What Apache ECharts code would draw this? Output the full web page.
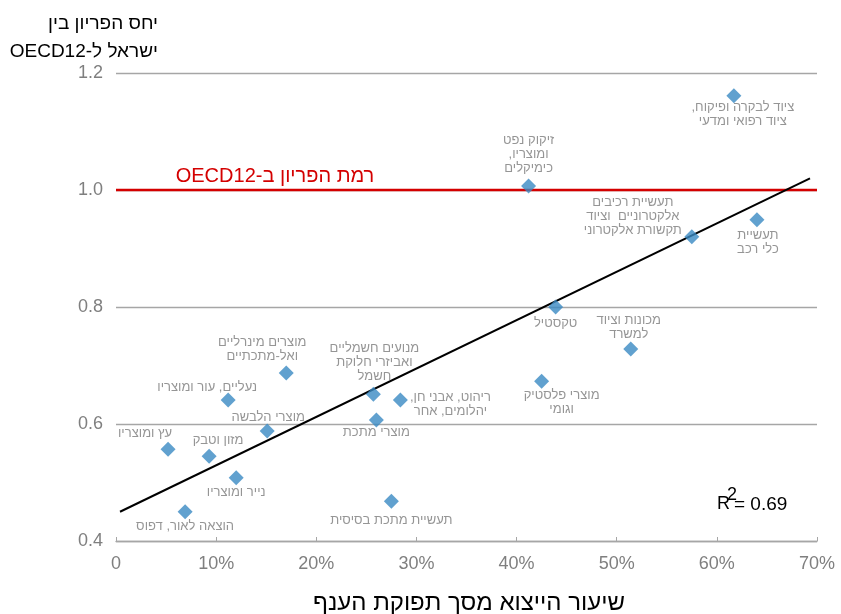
<!DOCTYPE html>
<html>
<head>
<meta charset="utf-8">
<script src="https://cdn.jsdelivr.net/npm/echarts@6/dist/echarts.min.js"></script>
<style>html,body{margin:0;padding:0;background:#fff}#c{width:841px;height:614px}</style>
</head>
<body>
<div id="c"></div>
<script>
// Industries (Hebrew labels, lines split by \n)
const industries = [
  'ציוד לבקרה ופיקוח,\nציוד רפואי ומדעי',
  'זיקוק נפט\nומוצריו,\nכימיקלים',
  'תעשיית\nכלי רכב',
  'תעשיית רכיבים\nאלקטרוניים  וציוד\nתקשורת אלקטרוני',
  'טקסטיל',
  'מכונות וציוד\nלמשרד',
  'מוצרי פלסטיק\nוגומי',
  'מוצרים מינרליים\nואל-מתכתיים',
  'מנועים חשמליים\nואביזרי חלוקת\nחשמל',
  'ריהוט, אבני חן,\nיהלומים, אחר',
  'נעליים, עור ומוצריו',
  'מוצרי מתכת',
  'מוצרי הלבשה',
  'עץ ומוצריו',
  'מזון וטבק',
  'נייר ומוצריו',
  'הוצאה לאור, דפוס',
  'תעשיית מתכת בסיסית'
];
// Export share of output (%)
const exportShare = [61.7, 41.2, 64.0, 57.5, 43.9, 51.4, 42.5, 17.0, 25.7, 28.4, 11.2, 26.0, 15.1, 5.2, 9.3, 12.0, 6.9, 27.5];
// Productivity ratio Israel / OECD12
const productivity = [1.161, 1.007, 0.949, 0.920, 0.800, 0.728, 0.673, 0.687, 0.651, 0.641, 0.641, 0.607, 0.588, 0.557, 0.545, 0.508, 0.450, 0.468];
// Trend line endpoints
const trendX = [0.4, 69.3];
const trendY = [0.450, 1.020];
const oecdLevel = 1.0;
const r2Text = '0.69';

// label offsets relative to the marker centre (layout only)
const labelOffsets = [[9,19],[0,-31],[1,23],[-59,-20],[0,16],[-2,-22],[20,21],[-24,-24],[1,-32],[50,4],[-21,-13],[0,13],[1,-14],[-23,-16],[9,-16],[0,15],[0,15],[0,19]];

const RLE = '\u202B', PDF = '\u202C';
const rtl = s => s.split('\n').map(l => RLE + l + PDF).join('\n');
const FONT = 'Liberation Sans, Arial, sans-serif';

const scatterData = exportShare.map((x, i) => ({
  value: [x, productivity[i]],
  name: industries[i],
  label: {
    show: true,
    position: 'inside',
    offset: labelOffsets[i],
    formatter: rtl(industries[i]),
    color: '#7a7a7a',
    fontSize: 13,
    lineHeight: 14,
    align: 'center',
    verticalAlign: 'middle',
    fontFamily: FONT
  }
}));

const chart = echarts.init(document.getElementById('c'));
chart.setOption({
  animation: false,
  grid: { left: 116, right: 24, top: 73, bottom: 73 },
  xAxis: {
    type: 'value', min: 0, max: 70, interval: 10,
    axisLine: { show: true, lineStyle: { color: '#a6a6a6', width: 1.3 } },
    axisTick: { show: true, inside: true, length: 4, lineStyle: { color: '#a6a6a6' } },
    splitLine: { show: false },
    axisLabel: {
      color: '#7f7f7f', fontSize: 18, margin: 14,
      fontFamily: FONT,
      formatter: v => v === 0 ? '0' : v + '%'
    }
  },
  yAxis: {
    type: 'value', min: 0.4, max: 1.2, interval: 0.2,
    axisLine: { show: false },
    axisTick: { show: false },
    splitLine: { show: true, lineStyle: { color: '#a6a6a6', width: 1.3 } },
    axisLabel: {
      color: '#7f7f7f', fontSize: 18, margin: 13,
      fontFamily: FONT,
      formatter: v => v.toFixed(1)
    }
  },
  series: [
    {
      type: 'line',
      data: [[0, oecdLevel], [70, oecdLevel]],
      symbol: 'none',
      lineStyle: { color: '#d40000', width: 2.5 },
      z: 2, silent: true
    },
    {
      type: 'line',
      data: trendX.map((x, i) => [x, trendY[i]]),
      symbol: 'none',
      lineStyle: { color: '#000', width: 2 },
      z: 3, silent: true
    },
    {
      type: 'scatter',
      symbol: 'diamond',
      symbolSize: 15,
      itemStyle: { color: '#3a8ac3' },
      data: scatterData,
      z: 4
    }
  ],
  graphic: [
    { type: 'text', x: 158, y: 38, style: { text: rtl('יחס הפריון בין\nישראל ל-OECD12'), fontSize: 19, lineHeight: 28, fill: '#000', align: 'right', verticalAlign: 'middle', fontFamily: FONT } },
    { type: 'text', x: 275, y: 176, style: { text: rtl('רמת הפריון ב-OECD12'), fontSize: 20, fill: '#d40000', align: 'center', verticalAlign: 'middle', fontFamily: FONT } },
    { type: 'text', x: 469, y: 603, style: { text: rtl('שיעור הייצוא מסך תפוקת הענף'), fontSize: 24, fill: '#000', align: 'center', verticalAlign: 'middle', fontFamily: FONT } },
    { type: 'text', x: 717, y: 504, style: { text: 'R', fontSize: 18, fill: '#000', verticalAlign: 'middle', fontFamily: FONT } },
    { type: 'text', x: 727, y: 495, style: { text: '2', fontSize: 18, fill: '#000', verticalAlign: 'middle', fontFamily: FONT } },
    { type: 'text', x: 734, y: 505, style: { text: '= ' + r2Text, fontSize: 19, fill: '#000', verticalAlign: 'middle', fontFamily: FONT } }
  ]
});
</script>
</body>
</html>
